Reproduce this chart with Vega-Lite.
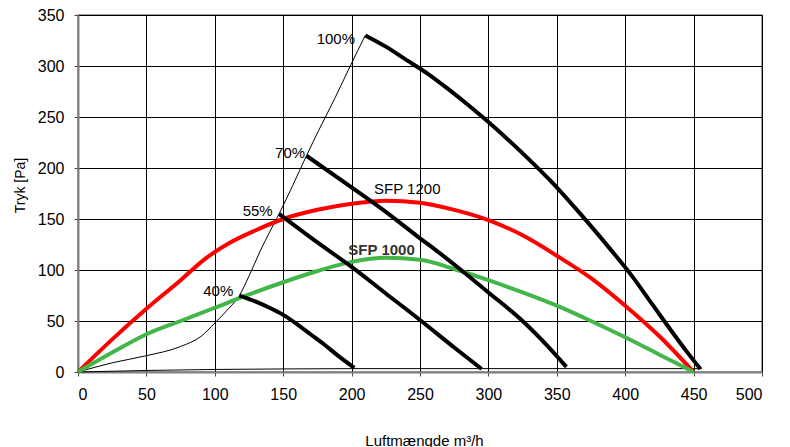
{
  "$schema": "https://vega.github.io/schema/vega-lite/v6.json",
  "width": 684,
  "height": 357,
  "autosize": {"type": "none"},
  "padding": {"left": 78, "top": 15, "right": 28, "bottom": 75},
  "background": "white",
  "config": {
    "font": "Liberation Sans",
    "view": {"stroke": "#808080", "strokeWidth": 1.5},
    "axis": {
      "grid": true,
      "gridColor": "#000000",
      "gridWidth": 1,
      "domainColor": "#808080",
      "domainWidth": 2,
      "tickColor": "#444444",
      "tickSize": 4,
      "labelFont": "Liberation Sans",
      "labelFontSize": 16,
      "labelColor": "#000000",
      "titleFont": "Liberation Sans",
      "titleFontWeight": "normal",
      "titleColor": "#000000"
    }
  },
  "datasets": {
    "curves": [
      {"s": "system", "x": 0, "y": 0}, {"s": "system", "x": 25, "y": 9}, {"s": "system", "x": 50, "y": 16}, {"s": "system", "x": 75, "y": 25}, {"s": "system", "x": 90, "y": 35}, {"s": "system", "x": 100, "y": 48}, {"s": "system", "x": 110, "y": 62}, {"s": "system", "x": 118, "y": 75}, {"s": "system", "x": 125, "y": 94}, {"s": "system", "x": 133, "y": 118}, {"s": "system", "x": 140, "y": 137}, {"s": "system", "x": 147, "y": 155}, {"s": "system", "x": 157, "y": 183}, {"s": "system", "x": 167, "y": 212}, {"s": "system", "x": 176, "y": 237}, {"s": "system", "x": 188, "y": 269}, {"s": "system", "x": 199, "y": 300}, {"s": "system", "x": 210, "y": 330},
      {"s": "base", "x": 0, "y": 0}, {"s": "base", "x": 50, "y": 1.5}, {"s": "base", "x": 100, "y": 2.5}, {"s": "base", "x": 150, "y": 3}, {"s": "base", "x": 200, "y": 3.3}, {"s": "base", "x": 456, "y": 3.3},
      {"s": "SFP 1200", "x": 0, "y": 0}, {"s": "SFP 1200", "x": 25, "y": 32}, {"s": "SFP 1200", "x": 50, "y": 62}, {"s": "SFP 1200", "x": 75, "y": 90}, {"s": "SFP 1200", "x": 92, "y": 110}, {"s": "SFP 1200", "x": 110, "y": 126}, {"s": "SFP 1200", "x": 130, "y": 139}, {"s": "SFP 1200", "x": 150, "y": 150}, {"s": "SFP 1200", "x": 175, "y": 159}, {"s": "SFP 1200", "x": 200, "y": 165}, {"s": "SFP 1200", "x": 225, "y": 168}, {"s": "SFP 1200", "x": 250, "y": 166}, {"s": "SFP 1200", "x": 275, "y": 159}, {"s": "SFP 1200", "x": 300, "y": 149}, {"s": "SFP 1200", "x": 325, "y": 134}, {"s": "SFP 1200", "x": 350, "y": 114}, {"s": "SFP 1200", "x": 375, "y": 92}, {"s": "SFP 1200", "x": 400, "y": 65}, {"s": "SFP 1200", "x": 425, "y": 35}, {"s": "SFP 1200", "x": 450, "y": 0},
      {"s": "SFP 1000", "x": 0, "y": 0}, {"s": "SFP 1000", "x": 25, "y": 19}, {"s": "SFP 1000", "x": 50, "y": 37}, {"s": "SFP 1000", "x": 75, "y": 50}, {"s": "SFP 1000", "x": 100, "y": 63}, {"s": "SFP 1000", "x": 125, "y": 76}, {"s": "SFP 1000", "x": 150, "y": 88}, {"s": "SFP 1000", "x": 175, "y": 99}, {"s": "SFP 1000", "x": 200, "y": 108}, {"s": "SFP 1000", "x": 225, "y": 112}, {"s": "SFP 1000", "x": 250, "y": 110}, {"s": "SFP 1000", "x": 275, "y": 101}, {"s": "SFP 1000", "x": 300, "y": 90}, {"s": "SFP 1000", "x": 325, "y": 78}, {"s": "SFP 1000", "x": 350, "y": 65}, {"s": "SFP 1000", "x": 375, "y": 50}, {"s": "SFP 1000", "x": 400, "y": 34}, {"s": "SFP 1000", "x": 425, "y": 17}, {"s": "SFP 1000", "x": 450, "y": 0},
      {"s": "100%", "x": 210, "y": 330}, {"s": "100%", "x": 225, "y": 319}, {"s": "100%", "x": 240, "y": 306}, {"s": "100%", "x": 255, "y": 293}, {"s": "100%", "x": 270, "y": 278}, {"s": "100%", "x": 285, "y": 262}, {"s": "100%", "x": 300, "y": 245}, {"s": "100%", "x": 315, "y": 227}, {"s": "100%", "x": 330, "y": 208}, {"s": "100%", "x": 345, "y": 188}, {"s": "100%", "x": 360, "y": 166}, {"s": "100%", "x": 375, "y": 143}, {"s": "100%", "x": 390, "y": 119}, {"s": "100%", "x": 405, "y": 94}, {"s": "100%", "x": 420, "y": 66}, {"s": "100%", "x": 435, "y": 38}, {"s": "100%", "x": 445, "y": 20}, {"s": "100%", "x": 455, "y": 3},
      {"s": "70%", "x": 167, "y": 212}, {"s": "70%", "x": 200, "y": 181}, {"s": "70%", "x": 225, "y": 157}, {"s": "70%", "x": 250, "y": 131}, {"s": "70%", "x": 262, "y": 119}, {"s": "70%", "x": 280, "y": 100}, {"s": "70%", "x": 300, "y": 78}, {"s": "70%", "x": 325, "y": 50}, {"s": "70%", "x": 345, "y": 23}, {"s": "70%", "x": 357, "y": 5},
      {"s": "55%", "x": 147, "y": 155}, {"s": "55%", "x": 175, "y": 127}, {"s": "55%", "x": 200, "y": 103}, {"s": "55%", "x": 225, "y": 77}, {"s": "55%", "x": 250, "y": 51}, {"s": "55%", "x": 275, "y": 24}, {"s": "55%", "x": 295, "y": 3},
      {"s": "40%", "x": 118, "y": 75}, {"s": "40%", "x": 130, "y": 69}, {"s": "40%", "x": 140, "y": 63}, {"s": "40%", "x": 150, "y": 56}, {"s": "40%", "x": 160, "y": 47}, {"s": "40%", "x": 170, "y": 37}, {"s": "40%", "x": 180, "y": 27}, {"s": "40%", "x": 190, "y": 16}, {"s": "40%", "x": 202, "y": 4}
    ],
    "labels": [
      {"t": "100%", "x": 202.5, "y": 326, "kind": "pct"},
      {"t": "70%", "x": 166, "y": 215, "kind": "pct"},
      {"t": "55%", "x": 142.3, "y": 158, "kind": "pct"},
      {"t": "40%", "x": 113.5, "y": 79.5, "kind": "pct"},
      {"t": "SFP 1200", "x": 216.4, "y": 179.3, "kind": "sfp"},
      {"t": "SFP 1000", "x": 197.6, "y": 120, "kind": "sfpbold"}
    ]
  },
  "encoding": {
    "x": {
      "field": "x", "type": "quantitative",
      "scale": {"domain": [0, 500], "nice": false},
      "axis": {"values": [0, 50, 100, 150, 200, 250, 300, 350, 400, 450, 500], "labelPadding": 10, "title": "Luftmængde m³/h", "titleFontSize": 15, "titleX": 346, "titleY": 68, "titleBaseline": "middle"}
    },
    "y": {
      "field": "y", "type": "quantitative",
      "scale": {"domain": [0, 350], "nice": false},
      "axis": {"values": [0, 50, 100, 150, 200, 250, 300, 350], "labelPadding": 10, "title": "Tryk [Pa]", "titleFontSize": 14, "titleX": -58, "titleY": 170, "titleBaseline": "middle", "titleAlign": "center"}
    }
  },
  "layer": [
    {
      "data": {"name": "curves"},
      "transform": [{"filter": "datum.s === 'system' || datum.s === 'base'"}],
      "mark": {"type": "line", "color": "#000000", "strokeWidth": 1, "interpolate": "monotone"},
      "encoding": {"detail": {"field": "s"}, "order": {"field": "x", "type": "quantitative"}}
    },
    {
      "data": {"name": "curves"},
      "transform": [{"filter": "datum.s === 'SFP 1200'"}],
      "mark": {"type": "line", "color": "#FF0000", "strokeWidth": 4, "interpolate": "monotone"},
      "encoding": {"order": {"field": "x", "type": "quantitative"}}
    },
    {
      "data": {"name": "curves"},
      "transform": [{"filter": "datum.s === 'SFP 1000'"}],
      "mark": {"type": "line", "color": "#44B549", "strokeWidth": 4, "interpolate": "monotone"},
      "encoding": {"order": {"field": "x", "type": "quantitative"}}
    },
    {
      "data": {"name": "curves"},
      "transform": [{"filter": "indexof(['100%','70%','55%','40%'], datum.s) >= 0"}],
      "mark": {"type": "line", "color": "#000000", "strokeWidth": 4, "interpolate": "monotone"},
      "encoding": {"detail": {"field": "s"}, "order": {"field": "x", "type": "quantitative"}}
    },
    {
      "data": {"name": "labels"},
      "transform": [{"filter": "datum.kind === 'pct'"}],
      "mark": {"type": "text", "align": "right", "baseline": "middle", "fontSize": 15, "color": "#000000", "font": "Liberation Sans"},
      "encoding": {"text": {"field": "t"}}
    },
    {
      "data": {"name": "labels"},
      "transform": [{"filter": "datum.kind === 'sfp'"}],
      "mark": {"type": "text", "align": "left", "baseline": "middle", "fontSize": 15, "color": "#000000", "font": "Liberation Sans"},
      "encoding": {"text": {"field": "t"}}
    },
    {
      "data": {"name": "labels"},
      "transform": [{"filter": "datum.kind === 'sfpbold'"}],
      "mark": {"type": "text", "align": "left", "baseline": "middle", "fontSize": 15, "fontWeight": "bold", "color": "#333333", "font": "Liberation Sans"},
      "encoding": {"text": {"field": "t"}}
    }
  ]
}
